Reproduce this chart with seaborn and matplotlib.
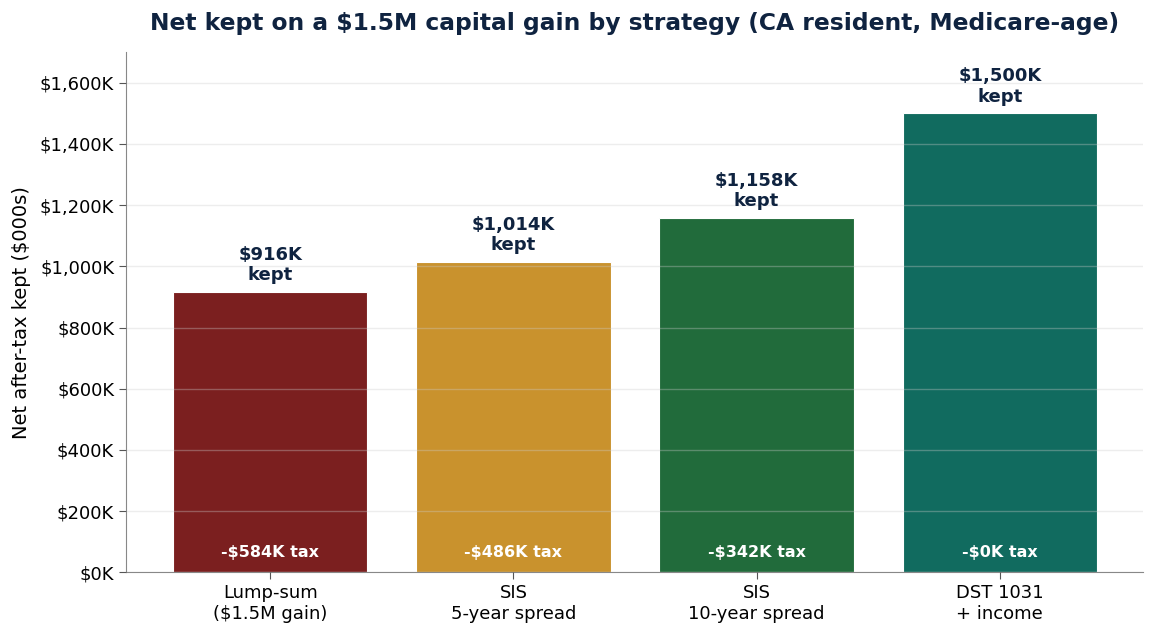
import pandas as pd
import seaborn as sns
import matplotlib.pyplot as plt
from matplotlib.ticker import FuncFormatter

strategies = ['Lump-sum\n($1.5M gain)', 'SIS\n5-year spread', 'SIS\n10-year spread', 'DST 1031\n+ income']
kept = [916, 1014, 1158, 1500]
tax = [584, 486, 342, 0]
colors = ['#7b1f1f', '#c9922d', '#216b3b', '#116b5f']

df = pd.DataFrame({'strategy': strategies, 'kept': kept, 'tax': tax})

sns.set_style('white')
plt.rcParams['font.family'] = ['DejaVu Sans']

fig, ax = plt.subplots(figsize=(11.56, 6.36), dpi=100)
sns.barplot(data=df, x='strategy', y='kept', hue='strategy', palette=colors,
            legend=False, width=0.8, saturation=1, edgecolor='white', linewidth=0.8, ax=ax)

ax.set_xlim(-0.593, 3.59)
ax.set_ylim(0, 1700)
ax.set_yticks(range(0, 1700, 200))
ax.yaxis.set_major_formatter(FuncFormatter(lambda v, p: f'${v:,.0f}K'))
ax.set_axisbelow(False)
ax.grid(axis='y', color='#cccccc', linewidth=1, alpha=0.35)

navy = '#0f2340'
for i, (k, t) in enumerate(zip(kept, tax)):
    ax.text(i, k + 25, f'${k:,}K\nkept', ha='center', va='bottom',
            fontsize=13, fontweight='bold', color=navy, linespacing=1.2)
    ax.text(i, 65, f'-${t}K tax', ha='center', va='center',
            fontsize=11.5, fontweight='bold', color='white')

ax.set_title('Net kept on a $1.5M capital gain by strategy (CA resident, Medicare-age)',
             fontsize=16.8, fontweight='bold', color=navy, pad=16)
ax.set_xlabel('')
ax.set_ylabel('Net after-tax kept ($000s)', fontsize=14, color='black', labelpad=6)
ax.tick_params(axis='both', labelsize=13, length=5, color='#555555', labelcolor='black',
               left=True, bottom=True)
sns.despine(ax=ax)
for s in ['left', 'bottom']:
    ax.spines[s].set_color('#888888')

plt.subplots_adjust(left=0.109, right=0.989, top=0.918, bottom=0.1)
plt.savefig('out.png', dpi=100)
